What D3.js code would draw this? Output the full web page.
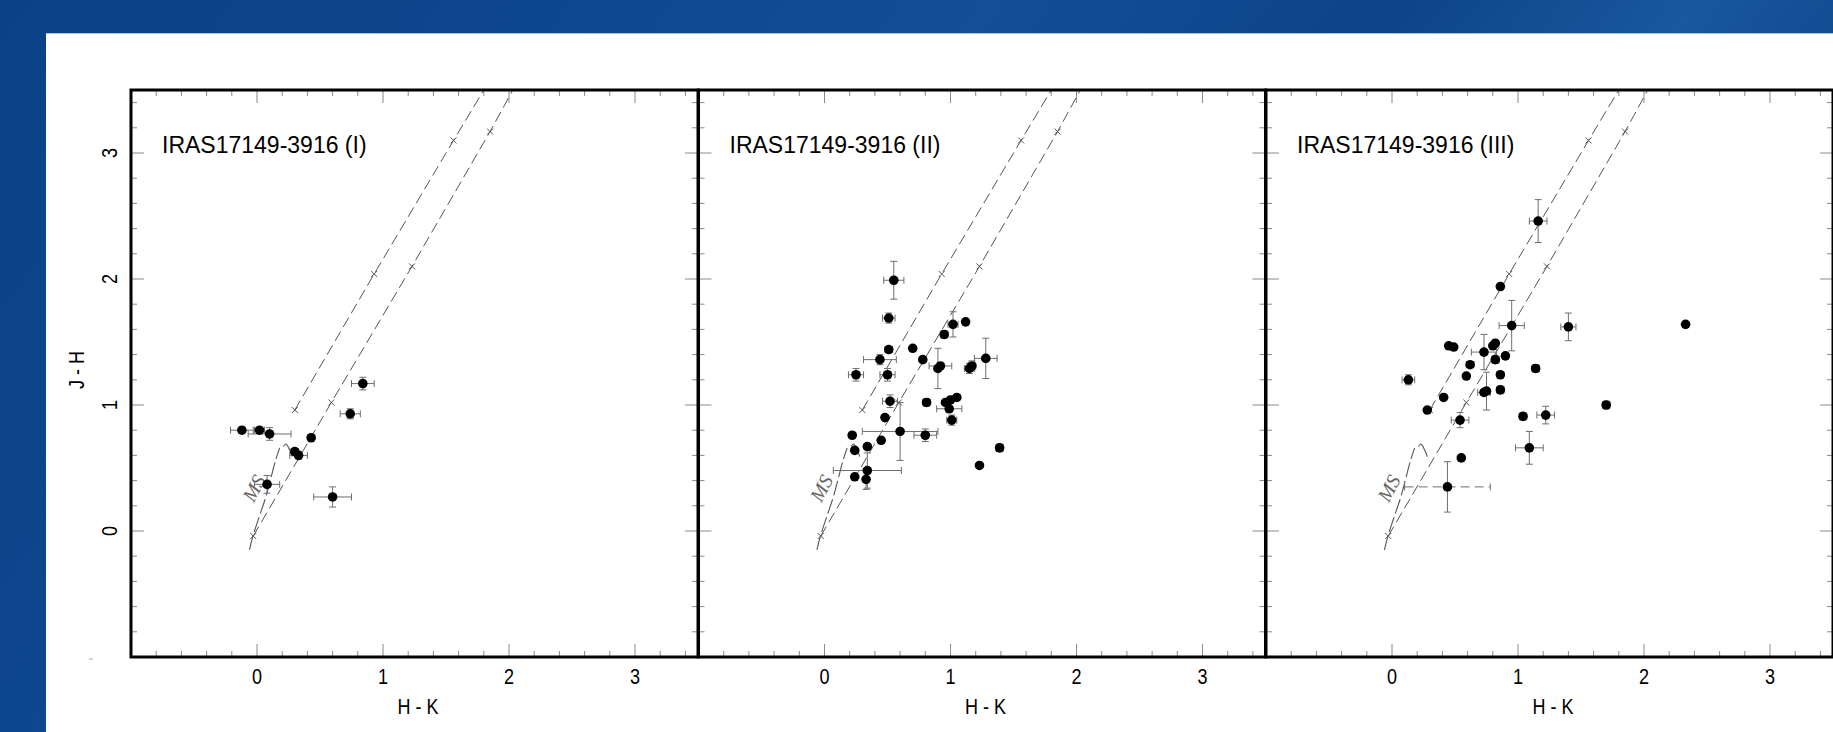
<!DOCTYPE html>
<html>
<head>
<meta charset="utf-8">
<script src="https://cdn.jsdelivr.net/npm/d3@7"></script>
<style>
  body { margin: 0; padding: 0; overflow: hidden; }
  svg { display: block; }
</style>
</head>
<body>
<svg id="chart" width="1833" height="732"></svg>
<script>
// data: [H-K, J-H, err(H-K), err(J-H)]
var starsI = [
	[-0.12, 0.80, 0.09, 0.02], [0.02, 0.80, 0.04, 0.02], [0.10, 0.77, 0.17, 0.05],
	[0.43, 0.74, 0, 0], [0.30, 0.63, 0.03, 0.02], [0.33, 0.60, 0.07, 0.03],
	[0.84, 1.17, 0.09, 0.05], [0.74, 0.93, 0.08, 0.04], [0.08, 0.37, 0.10, 0.07],
	[0.60, 0.27, 0.15, 0.08]
];
var starsII = [
	[0.55, 1.99, 0.08, 0.15], [0.51, 1.69, 0.05, 0.04], [0.51, 1.44, 0.03, 0.02],
	[0.44, 1.36, 0.13, 0.04], [0.25, 1.24, 0.06, 0.05], [0.50, 1.24, 0.06, 0.05],
	[0.70, 1.45, 0, 0], [0.78, 1.36, 0, 0], [0.95, 1.56, 0.03, 0.03],
	[1.02, 1.64, 0.04, 0.10], [1.12, 1.66, 0, 0], [0.90, 1.29, 0.02, 0.16],
	[0.92, 1.31, 0.09, 0.02], [1.15, 1.29, 0.04, 0.04], [1.17, 1.31, 0.03, 0.04],
	[1.28, 1.37, 0.09, 0.16], [0.52, 1.03, 0.06, 0.05], [0.81, 1.02, 0.03, 0.03],
	[0.96, 1.02, 0.02, 0.02], [1.00, 1.04, 0.02, 0.02], [1.05, 1.06, 0.02, 0.02],
	[0.99, 0.97, 0.10, 0.02], [1.01, 0.88, 0.04, 0.04], [0.48, 0.90, 0, 0],
	[0.60, 0.79, 0.30, 0.23], [0.80, 0.76, 0.09, 0.05], [0.22, 0.76, 0.02, 0.02],
	[0.45, 0.72, 0.02, 0.02], [0.24, 0.64, 0, 0], [0.34, 0.67, 0, 0],
	[0.34, 0.48, 0.27, 0.14], [0.24, 0.43, 0, 0], [0.33, 0.41, 0, 0.08],
	[1.39, 0.66, 0.03, 0.03], [1.23, 0.52, 0.02, 0.02]
];
var starsIII = [
	[1.16, 2.46, 0.07, 0.17], [0.86, 1.94, 0, 0], [0.95, 1.63, 0.10, 0.20],
	[1.40, 1.62, 0.06, 0.11], [2.33, 1.64, 0.02, 0.02], [0.45, 1.47, 0, 0],
	[0.49, 1.46, 0, 0], [0.80, 1.47, 0, 0], [0.82, 1.49, 0, 0],
	[0.73, 1.42, 0.10, 0.14], [0.82, 1.36, 0.03, 0.03], [0.90, 1.39, 0, 0],
	[0.62, 1.32, 0.03, 0.02], [0.59, 1.23, 0, 0], [0.86, 1.24, 0, 0],
	[1.14, 1.29, 0.03, 0.03], [0.13, 1.20, 0.05, 0.04], [0.41, 1.06, 0, 0],
	[0.28, 0.96, 0, 0], [0.73, 1.10, 0.05, 0.02], [0.75, 1.11, 0.02, 0.15],
	[0.86, 1.12, 0.03, 0.03], [1.70, 1.00, 0.03, 0.03], [0.54, 0.88, 0.07, 0.06],
	[1.04, 0.91, 0.03, 0.03], [1.22, 0.92, 0.07, 0.07], [1.09, 0.66, 0.11, 0.13],
	[0.55, 0.58, 0, 0], [0.44, 0.35, 0.34, 0.20]
];
var panelTitles = ["IRAS17149-3916 (I)", "IRAS17149-3916 (II)", "IRAS17149-3916 (III)"];
var panelStars = [starsI, starsII, starsIII];

// reddening vectors, crosses on the first ones
var upperReddening = [[0.30, 0.96], [0.93, 2.04], [1.56, 3.10], [1.80, 3.50]];
var lowerReddening = [[-0.03, -0.04], [0.59, 1.02], [1.23, 2.10], [1.85, 3.17], [2.03, 3.50]];
var upperCrosses = [[0.30, 0.96], [0.93, 2.04], [1.56, 3.10]];
var lowerCrosses = [[-0.03, -0.04], [0.59, 1.02], [1.23, 2.10], [1.85, 3.17]];
// main sequence locus: dwarfs and giant hook
var msDwarfs = [[-0.06, -0.15], [-0.035, -0.05], [0.02, 0.12], [0.07, 0.27], [0.11, 0.42], [0.15, 0.57], [0.18, 0.66]];
var msGiants = [[0.21, 0.67], [0.23, 0.69], [0.26, 0.64], [0.28, 0.59]];

var xTicks = [0, 1, 2, 3];
var yTicks = [0, 1, 2, 3];

var svg = d3.select("#chart");
var defs = svg.append("defs");

// blue slide background
var grad = defs.append("linearGradient").attr("id", "bg").attr("x1", "0").attr("x2", "1").attr("y1", "0").attr("y2", "0.3");
[["0", "#0b4287"], ["0.25", "#0d468c"], ["0.5", "#134e96"], ["0.7", "#0c4488"], ["0.85", "#1a579d"], ["1", "#0b4287"]].forEach(function(s) {
	grad.append("stop").attr("offset", s[0]).attr("stop-color", s[1]);
});
svg.append("rect").attr("width", 1833).attr("height", 732).attr("fill", "url(#bg)");
svg.append("rect").attr("x", 46).attr("y", 33).attr("width", 1833 - 46).attr("height", 732 - 33).attr("fill", "#ffffff");
svg.append("line").attr("x1", 46).attr("x2", 1833).attr("y1", 33.5).attr("y2", 33.5).attr("stroke", "#a9c2e2").attr("stroke-width", 1);
// tiny stray mark left of the first frame
svg.append("line").attr("x1", 89).attr("x2", 93).attr("y1", 659).attr("y2", 659).attr("stroke", "#aaa").attr("stroke-width", 1);

var panelW = 567;
var plotTop = 90, plotBottom = 657;
var axisFont = "'Liberation Sans', Arial, sans-serif";
var titleFont = "'Liberation Sans', Arial, sans-serif";

// narrow-looking axis text
function axisText(g, tx, ty, rot, str) {
	return g.append("text")
		.attr("transform", "translate(" + tx + "," + ty + ")" + (rot ? " rotate(" + rot + ")" : "") + " scale(0.82,1)")
		.attr("text-anchor", "middle").attr("dy", "0.36em")
		.style("font-family", axisFont).style("font-size", "22px").attr("fill", "#000").text(str);
}

function drawPanel(i) {
	var left = 131 + i * 567.5;
	var x = d3.scaleLinear().domain([-1, 3.5]).range([left, left + panelW]);
	var y = d3.scaleLinear().domain([-1, 3.5]).range([plotBottom, plotTop]);
	var g = svg.append("g");

	defs.append("clipPath").attr("id", "clip" + i)
		.append("rect").attr("x", left).attr("y", plotTop).attr("width", panelW).attr("height", plotBottom - plotTop);

	// ticks on all four sides, inward
	var minor = d3.range(-10, 35, 2).map(function(v) { return v / 10; });
	var tg = g.append("g").attr("stroke", "#8a8a8a").attr("stroke-width", 1);
	minor.forEach(function(v) {
		var len = (Math.abs(v - Math.round(v)) < 1e-6) ? 13 : 6;
		if (v > -1) {
			tg.append("line").attr("x1", x(v)).attr("x2", x(v)).attr("y1", plotBottom).attr("y2", plotBottom - len);
			tg.append("line").attr("x1", x(v)).attr("x2", x(v)).attr("y1", plotTop).attr("y2", plotTop + len);
			tg.append("line").attr("x1", left).attr("x2", left + len).attr("y1", y(v)).attr("y2", y(v));
			tg.append("line").attr("x1", left + panelW).attr("x2", left + panelW - len).attr("y1", y(v)).attr("y2", y(v));
		}
	});

	var plot = g.append("g").attr("clip-path", "url(#clip" + i + ")");
	var line = d3.line().x(function(d) { return x(d[0]); }).y(function(d) { return y(d[1]); });

	[upperReddening, lowerReddening].forEach(function(r) {
		plot.append("path").attr("d", line(r)).attr("fill", "none")
			.attr("stroke", "#555").attr("stroke-width", 1).attr("stroke-dasharray", "11,5");
	});
	upperCrosses.concat(lowerCrosses).forEach(function(c) {
		var cx = x(c[0]), cy = y(c[1]);
		plot.append("path").attr("d", "M" + (cx - 3) + "," + (cy - 3) + "L" + (cx + 3) + "," + (cy + 3) + "M" + (cx - 3) + "," + (cy + 3) + "L" + (cx + 3) + "," + (cy - 3))
			.attr("stroke", "#555").attr("stroke-width", 1);
	});
	var ms = d3.line().curve(d3.curveCatmullRom).x(function(d) { return x(d[0]); }).y(function(d) { return y(d[1]); });
	plot.append("path").attr("d", ms(msDwarfs)).attr("fill", "none").attr("stroke", "#555").attr("stroke-width", 1.1).attr("stroke-dasharray", "15,4");
	plot.append("path").attr("d", ms(msGiants)).attr("fill", "none").attr("stroke", "#555").attr("stroke-width", 1.1);
	plot.append("text").attr("transform", "translate(" + x(-0.025) + "," + y(0.34) + ") rotate(-62)")
		.attr("text-anchor", "middle").attr("dy", "0.35em")
		.style("font-family", "'Liberation Serif', 'DejaVu Serif', serif").style("font-style", "italic")
		.style("font-size", "20px").attr("fill", "#666").text("MS");

	// error bars then stars
	var eb = plot.append("g").attr("stroke", "#6e6e6e").attr("stroke-width", 1).attr("fill", "none");
	panelStars[i].forEach(function(s, k) {
		var cx = x(s[0]), cy = y(s[1]);
		var dashed = (i === 2 && k === panelStars[i].length - 1) ? "9,5" : null;
		if (s[2] > 0) {
			var x1 = x(s[0] - s[2]), x2 = x(s[0] + s[2]);
			eb.append("line").attr("x1", x1).attr("x2", x2).attr("y1", cy).attr("y2", cy).attr("stroke-dasharray", dashed);
			eb.append("line").attr("x1", x1).attr("x2", x1).attr("y1", cy - 3.5).attr("y2", cy + 3.5);
			eb.append("line").attr("x1", x2).attr("x2", x2).attr("y1", cy - 3.5).attr("y2", cy + 3.5);
		}
		if (s[3] > 0) {
			var y1 = y(s[1] - s[3]), y2 = y(s[1] + s[3]);
			eb.append("line").attr("x1", cx).attr("x2", cx).attr("y1", y1).attr("y2", y2);
			eb.append("line").attr("x1", cx - 3.5).attr("x2", cx + 3.5).attr("y1", y1).attr("y2", y1);
			eb.append("line").attr("x1", cx - 3.5).attr("x2", cx + 3.5).attr("y1", y2).attr("y2", y2);
		}
	});
	plot.selectAll("circle.star").data(panelStars[i]).enter().append("circle")
		.attr("class", "star")
		.attr("cx", function(d) { return x(d[0]); })
		.attr("cy", function(d) { return y(d[1]); })
		.attr("r", 4.8).attr("fill", "#000");

	// frame
	g.append("rect").attr("x", left).attr("y", plotTop).attr("width", panelW).attr("height", plotBottom - plotTop)
		.attr("fill", "none").attr("stroke", "#000").attr("stroke-width", 3);

	g.append("text").attr("x", left + 31).attr("y", 153)
		.style("font-family", titleFont).style("font-size", "23px").attr("fill", "#000")
		.text(panelTitles[i]);

	// x tick labels and title
	xTicks.forEach(function(v) {
		axisText(g, x(v), 676, 0, v);
	});
	axisText(g, left + 287, 706, 0, "H - K");

	if (i === 0) {
		yTicks.forEach(function(v) {
			axisText(g, 109, y(v), -90, v);
		});
		axisText(g, 76, 370, -90, "J - H");
	}
}

for (var i = 0; i < 3; ++i) {
	drawPanel(i);
}
</script>
</body>
</html>
